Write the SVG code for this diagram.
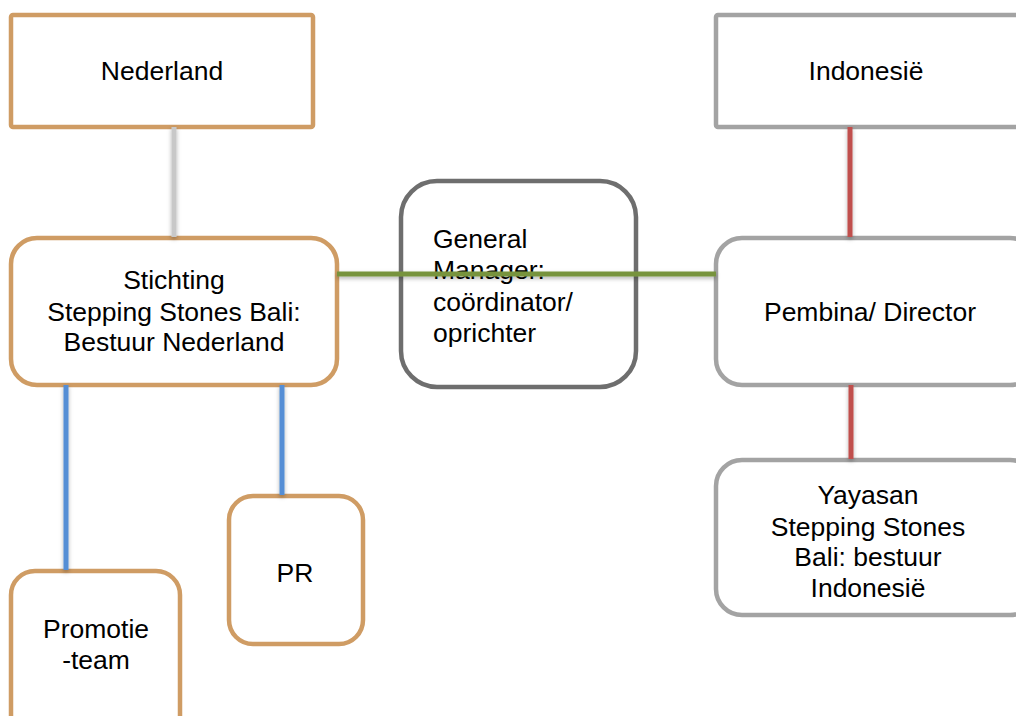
<svg xmlns="http://www.w3.org/2000/svg" width="1016" height="716" viewBox="0 0 1016 716">
<defs>
<style>
.tan{fill:#fff;stroke:#CF9C64;stroke-width:4.5}
.gry{fill:#fff;stroke:#A3A3A3;stroke-width:4.5}
.dgr{fill:#fff;stroke:#6E6E6E;stroke-width:4.5}
text{font-family:"Liberation Sans",Arial,sans-serif;font-size:26.5px;fill:#000}
.c{text-anchor:middle}
.ln{fill:none;stroke-width:5}
</style>
<filter id="sh" x="-20%" y="-20%" width="140%" height="140%">
<feDropShadow dx="0" dy="2" stdDeviation="2" flood-color="#000" flood-opacity="0.3"/>
</filter>
</defs>
<rect width="1016" height="716" fill="#fff"/>
<g id="nederland"><rect class="tan" x="11" y="15" width="302" height="112" rx="2"/><text class="c" x="162" y="80">Nederland</text></g>
<g id="indonesie"><rect class="gry" x="716" y="15" width="320" height="112" rx="2"/><text class="c" x="866" y="80">Indonesië</text></g>
<g id="stichting"><rect class="tan" x="11" y="238" width="326" height="147" rx="26"/><text class="c" x="174" y="289">Stichting</text><text class="c" x="174" y="321">Stepping Stones Bali:</text><text class="c" x="174" y="351">Bestuur Nederland</text></g>
<g id="general-manager"><rect class="dgr" x="401" y="181" width="235" height="206" rx="36"/><text x="433" y="248">General</text><text x="433" y="279">Manager:</text><text x="433" y="311">coördinator/</text><text x="433" y="342">oprichter</text></g>
<g id="pembina"><rect class="gry" x="716" y="238" width="320" height="147" rx="26"/><text class="c" x="870" y="321">Pembina/ Director</text></g>
<g id="yayasan"><rect class="gry" x="716" y="460" width="320" height="155" rx="26"/><text class="c" x="868" y="504">Yayasan</text><text class="c" x="868" y="536">Stepping Stones</text><text class="c" x="868" y="566">Bali: bestuur</text><text class="c" x="868" y="597">Indonesië</text></g>
<g id="pr"><rect class="tan" x="229" y="496" width="134" height="148" rx="24"/><text class="c" x="295" y="582">PR</text></g>
<g id="promotie"><rect class="tan" x="11" y="571" width="169" height="170" rx="24"/><text class="c" x="96" y="638">Promotie</text><text class="c" x="96" y="669">-team</text></g>
<g id="connectors" filter="url(#sh)">
<line class="ln" x1="174" y1="127" x2="174" y2="237" stroke="#C8C8C8"/>
<line class="ln" x1="850" y1="127" x2="850" y2="237" stroke="#C0504D"/>
<line class="ln" x1="851" y1="385" x2="851" y2="459" stroke="#C0504D"/>
<line class="ln" x1="337" y1="274" x2="716" y2="274" stroke="#77933C"/>
<line class="ln" x1="66" y1="385" x2="66" y2="570" stroke="#558ED5"/>
<line class="ln" x1="282" y1="385" x2="282" y2="495" stroke="#558ED5"/>
</g>
</svg>
